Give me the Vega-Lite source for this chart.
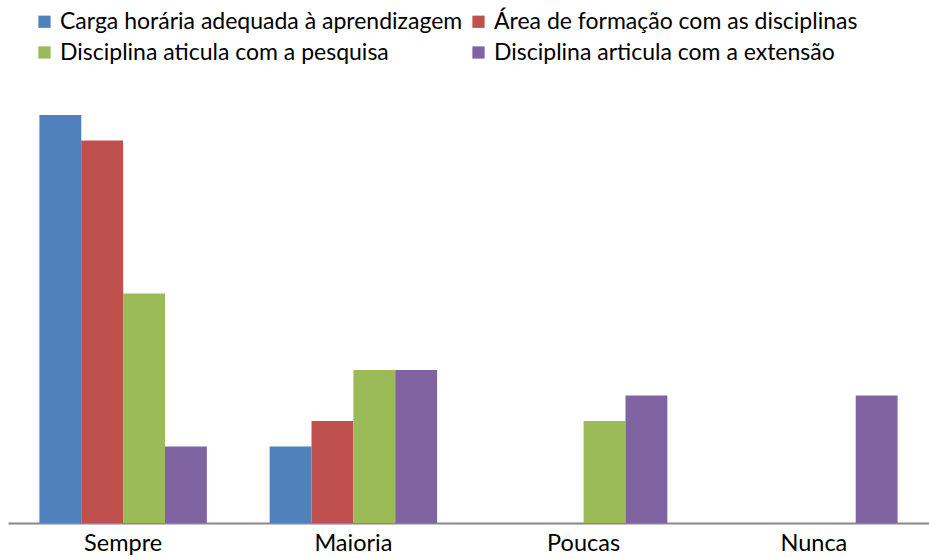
{
  "$schema": "https://vega.github.io/schema/vega-lite/v6.json",
  "width": 921,
  "height": 459,
  "autosize": "none",
  "padding": {"left": 8, "top": 64, "right": 0, "bottom": 36},
  "background": "white",
  "data": {
    "values": [
      {"cat": "Sempre", "serie": "Carga horária adequada à aprendizagem", "v": 16},
      {"cat": "Sempre", "serie": "Área de formação com as disciplinas", "v": 15},
      {"cat": "Sempre", "serie": "Disciplina aticula com a pesquisa", "v": 9},
      {"cat": "Sempre", "serie": "Disciplina articula com a extensão", "v": 3},
      {"cat": "Maioria", "serie": "Carga horária adequada à aprendizagem", "v": 3},
      {"cat": "Maioria", "serie": "Área de formação com as disciplinas", "v": 4},
      {"cat": "Maioria", "serie": "Disciplina aticula com a pesquisa", "v": 6},
      {"cat": "Maioria", "serie": "Disciplina articula com a extensão", "v": 6},
      {"cat": "Poucas", "serie": "Carga horária adequada à aprendizagem", "v": 0},
      {"cat": "Poucas", "serie": "Área de formação com as disciplinas", "v": 0},
      {"cat": "Poucas", "serie": "Disciplina aticula com a pesquisa", "v": 4},
      {"cat": "Poucas", "serie": "Disciplina articula com a extensão", "v": 5},
      {"cat": "Nunca", "serie": "Carga horária adequada à aprendizagem", "v": 0},
      {"cat": "Nunca", "serie": "Área de formação com as disciplinas", "v": 0},
      {"cat": "Nunca", "serie": "Disciplina aticula com a pesquisa", "v": 0},
      {"cat": "Nunca", "serie": "Disciplina articula com a extensão", "v": 5}
    ]
  },
  "config": {
    "view": {"stroke": null},
    "font": "Lato"
  },
  "mark": {"type": "bar"},
  "encoding": {
    "x": {
      "field": "cat", "type": "nominal",
      "sort": ["Sempre", "Maioria", "Poucas", "Nunca"],
      "scale": {"paddingInner": 0.2727, "paddingOuter": 0.1364},
      "axis": {
        "title": null, "labelAngle": 0, "ticks": false,
        "labelFontSize": 23.5, "labelColor": "#000000", "labelFont": "Lato",
        "labelPadding": 8,
        "domainColor": "#888888", "domainWidth": 2
      }
    },
    "xOffset": {
      "field": "serie", "type": "nominal",
      "sort": ["Carga horária adequada à aprendizagem", "Área de formação com as disciplinas", "Disciplina aticula com a pesquisa", "Disciplina articula com a extensão"],
      "scale": {"paddingInner": 0, "paddingOuter": 0}
    },
    "y": {
      "field": "v", "type": "quantitative",
      "scale": {"domain": [0, 18], "nice": false},
      "axis": null
    },
    "color": {
      "field": "serie", "type": "nominal",
      "scale": {
        "domain": ["Carga horária adequada à aprendizagem", "Disciplina aticula com a pesquisa", "Área de formação com as disciplinas", "Disciplina articula com a extensão"],
        "range": ["#4F81BD", "#9BBB59", "#C0504D", "#8064A2"]
      },
      "legend": {
        "title": null,
        "orient": "none",
        "legendX": 25,
        "legendY": -54,
        "columns": 2,
        "columnPadding": 4,
        "rowPadding": 7,
        "symbolType": "square",
        "symbolSize": 150,
        "symbolStrokeWidth": 0,
        "labelFontSize": 23,
        "labelFont": "Lato",
        "labelColor": "#000000",
        "labelOffset": 4,
        "labelLimit": 500
      }
    }
  }
}
